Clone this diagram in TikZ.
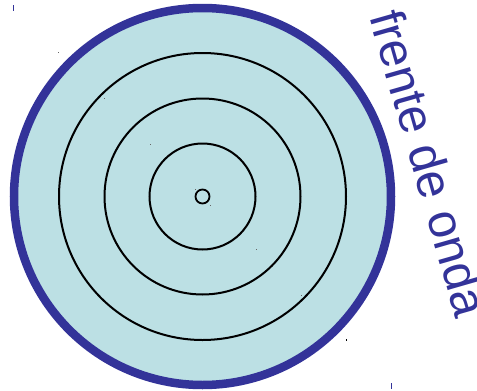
\documentclass[tikz,border=0pt]{standalone}
\usepackage{fontspec}
\setmainfont{Liberation Sans}
\definecolor{wavefill}{HTML}{BCE0E4}
\definecolor{waveblue}{HTML}{333399}
\begin{document}
\begin{tikzpicture}[x=1pt,y=-1pt,
  front/.style={draw=waveblue,line width=8.5pt,fill=wavefill},
  ring/.style={draw=black,line width=2pt},
  speck/.style={fill=black!60,draw=none},
  lbl/.style={text=waveblue,font=\fontsize{49}{49}\selectfont,inner sep=0pt,anchor=base west,rotate=-74}]
\useasboundingbox (0,0) rectangle (477,391);
\coordinate (c) at (202.5,196.5);
\draw[front] (c) circle[radius=188.5];
\draw[ring] (c) circle[radius=143.5];
\draw[ring] (c) circle[radius=98];
\draw[ring] (c) circle[radius=53];
\draw[ring,line width=1.8pt] (c) circle[radius=7];
% selection handle specks
\fill[waveblue] (12.8,5) rectangle (13.8,10.5);
\fill[waveblue] (391,383) rectangle (392,389);
\fill[speck] (58.2,52.2) rectangle (59.2,53.2);
\fill[speck] (103.8,97.8) rectangle (104.8,98.8);
\fill[speck] (149.5,143.5) rectangle (150.5,144.5);
\fill[speck] (194.5,188.5) rectangle (195.5,189.5);
\fill[speck] (209.5,204.5) rectangle (210.5,205.5);
\fill[speck] (255.5,248.5) rectangle (256.5,249.5);
\fill[speck] (300.5,294.5) rectangle (301.5,295.5);
\fill[black] (346.2,339) rectangle (347.2,341);
\node[lbl] (t) at (369,16) {frente de onda};
\end{tikzpicture}
\end{document}
